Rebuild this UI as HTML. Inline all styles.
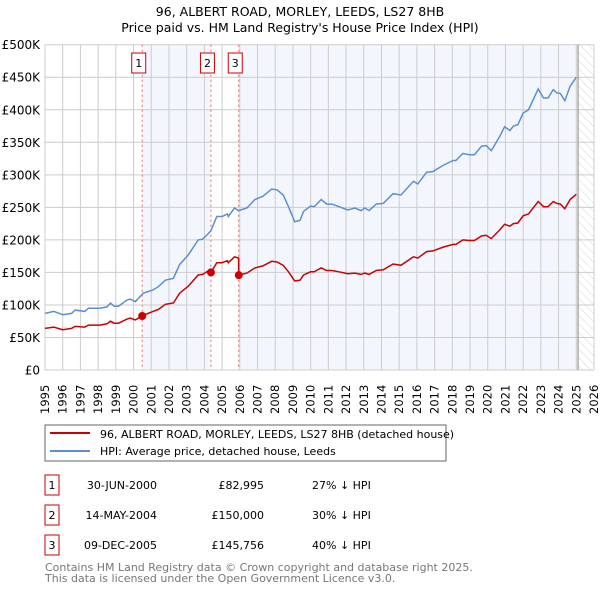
<!DOCTYPE html>
<html><head><meta charset="utf-8"><style>
body{margin:0;background:#fff;font-family:"DejaVu Sans","Liberation Sans",sans-serif;}
svg text{font-family:"DejaVu Sans","Liberation Sans",sans-serif;}
</style></head><body>
<svg id="c" width="600" height="590" xmlns="http://www.w3.org/2000/svg">
<defs><pattern id="hatch" width="6" height="6" patternUnits="userSpaceOnUse" patternTransform="rotate(-45)"><line x1="0" y1="0" x2="0" y2="6" stroke="#bbb" stroke-width="0.6"/></pattern></defs>
<text x="300" y="16" text-anchor="middle" font-size="12.5">96, ALBERT ROAD, MORLEY, LEEDS, LS27 8HB</text>
<text x="300" y="32" text-anchor="middle" font-size="12.5">Price paid vs. HM Land Registry's House Price Index (HPI)</text>
<g id="plot"></g>
<rect x="45" y="425" width="401" height="36" fill="#fff" stroke="#666"/>
<line x1="50" y1="433" x2="90" y2="433" stroke="#cc0000" stroke-width="2"/>
<text x="100" y="438" font-size="11">96, ALBERT ROAD, MORLEY, LEEDS, LS27 8HB (detached house)</text>
<line x1="50" y1="451" x2="90" y2="451" stroke="#5b8fd0" stroke-width="2"/>
<text x="100" y="455" font-size="11">HPI: Average price, detached house, Leeds</text>
<g font-size="11">
<rect x="45" y="475" width="14" height="20" fill="none" stroke="#cc0000"/><text x="52" y="489" text-anchor="middle">1</text>
<text x="157" y="489" text-anchor="end">30-JUN-2000</text><text x="264" y="489" text-anchor="end">£82,995</text><text x="312" y="489">27% ↓ HPI</text>
<rect x="45" y="505" width="14" height="20" fill="none" stroke="#cc0000"/><text x="52" y="519" text-anchor="middle">2</text>
<text x="157" y="519" text-anchor="end">14-MAY-2004</text><text x="264" y="519" text-anchor="end">£150,000</text><text x="312" y="519">30% ↓ HPI</text>
<rect x="45" y="535" width="14" height="20" fill="none" stroke="#cc0000"/><text x="52" y="549" text-anchor="middle">3</text>
<text x="157" y="549" text-anchor="end">09-DEC-2005</text><text x="264" y="549" text-anchor="end">£145,756</text><text x="312" y="549">40% ↓ HPI</text>
</g>
<text x="45" y="571" font-size="11" fill="#777">Contains HM Land Registry data © Crown copyright and database right 2025.</text>
<text x="45" y="582" font-size="11" fill="#777">This data is licensed under the Open Government Licence v3.0.</text>
</svg>
<script>
const years=[1995.0,1995.5,1996.0,1996.5,1996.7,1997.25,1997.45,1998.1,1998.5,1998.7,1998.9,1999.15,1999.6,1999.8,2000.1,2000.55,2001.1,2001.4,2001.8,2002.25,2002.6,2003.1,2003.65,2003.9,2004.2,2004.37,2004.7,2005.0,2005.3,2005.35,2005.7,2005.93,2005.94,2006.4,2006.85,2007.3,2007.8,2008.1,2008.45,2008.75,2009.1,2009.4,2009.6,2010.0,2010.2,2010.6,2010.9,2011.2,2011.6,2012.1,2012.5,2012.85,2013.05,2013.3,2013.7,2014.1,2014.65,2015.1,2015.8,2016.05,2016.55,2016.9,2017.5,2018.05,2018.2,2018.6,2018.95,2019.25,2019.65,2019.9,2020.2,2020.7,2020.95,2021.25,2021.45,2021.7,2022.0,2022.3,2022.85,2023.15,2023.4,2023.7,2023.9,2024.1,2024.35,2024.65,2025.0];
const hpiValues=[87,90,85,87,92,90,95,95,97,103,98,98,107,109,105,118,123,128,138,141,162,177,200,201,209,214,236,236,240,236,249,245,245,249,262,267,278,277,269,251,228,230,244,252,251,262,255,255,251,246,249,245,249,245,255,256,271,269,290,286,304,305,315,322,322,333,331,331,344,345,337,360,374,368,375,377,395,400,432,418,418,431,426,425,414,436,450];
const propertyValues=[64,66,62,64,67,66,69,69,71,75,72,72,78,80,77,84,90,93,101,103,118,129,146,147,152,150,165,165,168,165,174,172,146,149,157,160,167,166,161,151,137,138,146,151,151,157,153,153,151,148,149,147,149,147,153,154,163,161,174,172,182,183,189,193,193,200,199,199,206,207,202,216,224,221,225,226,237,240,259,251,251,259,256,255,248,262,270];
const saleYears=[2000.49,2004.37,2005.94];
const salePrices=[82.995,150,145.756];
const saleLabels=["1","2","3"];
const yTicks=[0,50,100,150,200,250,300,350,400,450,500];
const yTickLabels=["£0","£50K","£100K","£150K","£200K","£250K","£300K","£350K","£400K","£450K","£500K"];
const xTicks=[1995,1996,1997,1998,1999,2000,2001,2002,2003,2004,2005,2006,2007,2008,2009,2010,2011,2012,2013,2014,2015,2016,2017,2018,2019,2020,2021,2022,2023,2024,2025,2026];
const dataEnd=2025.1;

const NS="http://www.w3.org/2000/svg";
const L=45,R=594,T=44.7,B=370;
const xs=y=>L+(y-1995)/(2026-1995)*(R-L);
const ys=v=>B-v/500*(B-T);
const g=document.getElementById('plot');
function mk(t,a){const e=document.createElementNS(NS,t);for(const k in a)e.setAttribute(k,a[k]);g.appendChild(e);return e;}
let e;
e=mk('rect',{x:L,y:T,width:R-L,height:B-T,fill:'#fff'});


// shading
const shadeSpans=[[saleYears[0],saleYears[1]],[saleYears[2],dataEnd]];
shadeSpans.forEach((s,i)=>{e=mk('rect',{x:xs(s[0]),y:T,width:xs(s[1])-xs(s[0]),height:B-T,fill:'#eef3fc',opacity:0.7});

});
e=mk('rect',{x:xs(dataEnd),y:T,width:R-xs(dataEnd),height:B-T,fill:'url(#hatch)'});


xTicks.forEach(t=>{e=mk('line',{x1:xs(t),x2:xs(t),y1:T,y2:B,stroke:'#ccc','stroke-width':1});


e=mk('text',{transform:`translate(${xs(t)+4},414) rotate(-90)`,'font-size':11.5});e.textContent=t;

});
yTicks.forEach((t,i)=>{e=mk('line',{x1:L,x2:R,y1:ys(t),y2:ys(t),stroke:'#ccc','stroke-width':1});


e=mk('text',{x:40,y:ys(t)+4.5,'text-anchor':'end','font-size':12});e.textContent=yTickLabels[i];

});
e=mk('line',{x1:xs(dataEnd),x2:xs(dataEnd),y1:T,y2:B,stroke:'#888','stroke-width':1});


saleYears.forEach((s,i)=>{e=mk('line',{x1:xs(s),x2:xs(s),y1:T,y2:B,stroke:'#e66','stroke-width':1,'stroke-dasharray':'2,3'});


e=mk('rect',{x:xs(s)-10.5,y:53,width:14,height:20,fill:'#fff',stroke:'#cc0000'});


e=mk('text',{x:xs(s)-3.5,y:67,'text-anchor':'middle','font-size':11});e.textContent=saleLabels[i];

});
const pts=v=>years.map((y,i)=>xs(y).toFixed(1)+','+ys(v[i]).toFixed(1)).join(' ');
e=mk('polyline',{points:pts(hpiValues),fill:'none',stroke:'#5b8fd0','stroke-width':1.5});


e=mk('polyline',{points:pts(propertyValues),fill:'none',stroke:'#cc0000','stroke-width':1.5});


saleYears.forEach((s,i)=>{e=mk('circle',{cx:xs(s),cy:ys(salePrices[i]),r:4,fill:'#cc0000'});

});
</script>
</body></html>
